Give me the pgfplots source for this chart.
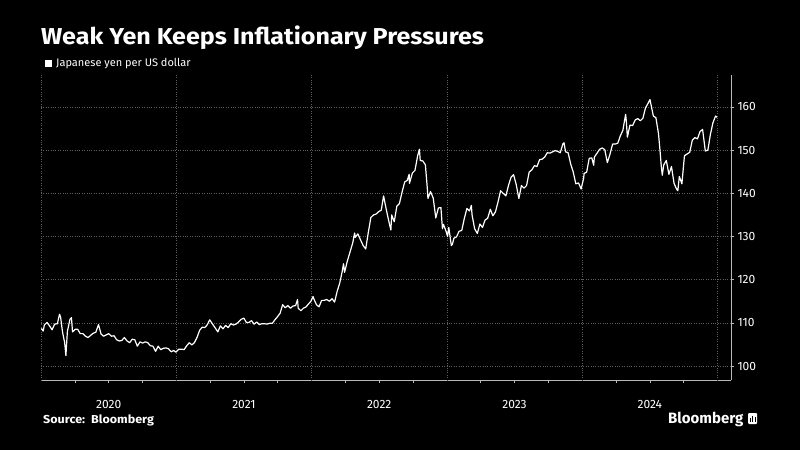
\documentclass[border=0pt]{standalone}
\usepackage{pgfplots}
\pgfplotsset{compat=1.18}
\usepackage{fontspec}
\setmainfont{Fira Sans}
\newfontfamily\widefont{Fira Sans}[FakeStretch=1.09]
\definecolor{gridc}{RGB}{95,95,95}
\definecolor{axc}{RGB}{185,185,185}
\begin{document}
\begin{tikzpicture}[x=1pt,y=1pt]
\fill[black] (0,0) rectangle (800,450);
\node[anchor=base west, text=white, inner sep=0, font=\widefont\fontsize{23}{23}\selectfont\bfseries] at (41,405) {Weak Yen Keeps Inflationary Pressures};
\fill[white] (45,383) rectangle (52,390);
\node[anchor=base west, text=white, inner sep=0, font=\fontsize{11}{11}\selectfont] at (56,383) {Japanese yen per US dollar};
\begin{axis}[
 at={(41pt,70pt)}, anchor=south west,
 scale only axis, width=690pt, height=305pt,
 xmin=2020, xmax=2025.1, ymin=96.76, ymax=167.4,
 axis x line*=bottom, axis y line*=right,
 axis line style={axc, line width=0.8pt},
 tick align=outside,
 ytick={100,110,120,130,140,150,160},
 ytick pos=right,
 xtick={2020.5,2021.5,2022.5,2023.5,2024.5},
 xticklabels={2020,2021,2022,2023,2024},
 major tick length=3pt,
 minor tick length=3pt,
 minor xtick={2020.25,2020.5,2020.75,2021.25,2021.5,2021.75,2022.25,2022.5,2022.75,2023.25,2023.5,2023.75,2024.25,2024.5,2024.75},
 x tick style={draw=none},
 minor x tick style={draw=axc, line width=0.6pt},
 y tick style={axc, line width=0.6pt},
 extra x ticks={2020,2021,2022,2023,2024,2025},
 extra x tick labels={},
 extra x tick style={grid=major, major tick length=30pt, tick style={draw=axc, line width=0.6pt}},
 ymajorgrids,
 major grid style={gridc, dotted, line width=0.6pt},
 /pgf/number format/assume math mode=true,
 ticklabel style={text=white, font=\fontsize{12}{12}\selectfont},
 xticklabel style={yshift=-14pt},
 clip=false,
]
\addplot[white, line width=1.2pt, line join=round] coordinates {
(2020.003,108.7)(2020.016,108.1)(2020.025,109.5)(2020.044,110.1)(2020.063,109.3)(2020.082,108.4)
(2020.101,109.7)(2020.121,109.8)(2020.137,112.0)(2020.145,111.3)(2020.159,107.9)(2020.175,105.4)
(2020.184,102.4)(2020.195,108.0)(2020.214,110.8)(2020.225,111.2)(2020.233,107.9)(2020.252,108.5)
(2020.271,108.5)(2020.290,107.5)(2020.310,107.5)(2020.329,106.9)(2020.348,106.6)(2020.367,107.1)
(2020.386,107.6)(2020.405,107.8)(2020.425,109.6)(2020.444,107.4)(2020.463,106.9)(2020.482,107.2)
(2020.500,107.5)(2020.521,106.9)(2020.540,107.0)(2020.559,106.1)(2020.578,105.8)(2020.597,105.9)
(2020.616,106.6)(2020.636,105.8)(2020.655,105.4)(2020.674,106.2)(2020.693,106.1)(2020.712,104.6)
(2020.732,105.6)(2020.751,105.3)(2020.770,105.6)(2020.789,105.4)(2020.808,104.7)(2020.827,104.6)
(2020.847,103.4)(2020.866,104.6)(2020.885,103.8)(2020.904,104.1)(2020.923,104.2)(2020.942,104.0)
(2020.962,103.3)(2020.981,103.6)(2020.997,103.2)
(2021.019,103.9)(2021.038,103.9)(2021.058,103.8)(2021.077,104.7)(2021.096,105.4)(2021.115,104.9)
(2021.134,105.4)(2021.153,106.6)(2021.173,108.3)(2021.192,109.0)(2021.211,108.9)(2021.230,109.6)
(2021.247,110.7)(2021.268,109.7)(2021.288,108.8)(2021.307,107.9)(2021.326,109.3)(2021.345,108.6)
(2021.364,109.4)(2021.384,108.9)(2021.403,109.8)(2021.422,109.5)(2021.441,109.7)(2021.460,110.2)
(2021.479,110.8)(2021.499,111.1)(2021.518,110.1)(2021.537,110.1)(2021.556,110.5)(2021.575,109.7)
(2021.595,110.2)(2021.614,109.6)(2021.633,109.8)(2021.652,109.8)(2021.671,109.7)(2021.690,109.9)
(2021.710,109.9)(2021.729,110.7)(2021.745,111.3)(2021.767,112.2)(2021.786,114.2)(2021.805,113.5)
(2021.825,114.0)(2021.844,113.4)(2021.863,113.9)(2021.882,114.0)(2021.896,115.4)(2021.901,113.4)
(2021.921,112.8)(2021.940,113.4)(2021.959,113.7)(2021.978,114.4)(2021.997,115.1)
(2022.011,116.1)(2022.016,115.6)(2022.036,114.2)(2022.055,113.7)(2022.074,115.2)(2022.093,115.2)
(2022.112,115.4)(2022.132,115.0)(2022.151,115.6)(2022.170,114.8)(2022.189,117.3)(2022.208,119.2)
(2022.227,122.0)(2022.236,123.7)(2022.244,121.7)(2022.264,124.3)(2022.284,126.4)(2022.304,128.5)
(2022.318,130.8)(2022.323,129.8)(2022.342,130.6)(2022.362,129.2)(2022.381,127.9)(2022.400,127.1)
(2022.419,130.9)(2022.438,134.4)(2022.458,135.0)(2022.477,135.2)(2022.493,135.7)(2022.515,136.1)
(2022.532,139.4)(2022.553,136.1)(2022.573,133.2)(2022.586,131.5)(2022.592,135.0)(2022.611,133.4)
(2022.630,137.0)(2022.649,137.6)(2022.668,140.2)(2022.688,142.6)(2022.707,143.0)(2022.721,144.4)
(2022.723,142.3)(2022.745,144.7)(2022.764,145.3)(2022.784,148.7)(2022.797,150.2)(2022.803,147.6)
(2022.822,147.5)(2022.841,146.6)(2022.856,140.9)(2022.860,138.8)(2022.879,140.4)(2022.899,138.9)
(2022.918,134.3)(2022.937,136.6)(2022.956,136.7)(2022.967,131.8)(2022.975,132.8)(2022.995,131.1)
(2023.005,130.0)(2023.014,132.1)(2023.033,127.9)(2023.041,128.2)(2023.052,129.6)(2023.071,129.9)
(2023.090,131.2)(2023.110,131.4)(2023.129,134.2)(2023.148,136.5)(2023.167,135.9)(2023.181,137.2)
(2023.186,135.0)(2023.205,131.8)(2023.225,130.7)(2023.244,132.9)(2023.263,132.1)(2023.282,133.8)
(2023.301,134.2)(2023.321,136.3)(2023.340,134.8)(2023.359,135.7)(2023.378,138.0)(2023.397,140.6)
(2023.416,140.0)(2023.436,139.4)(2023.455,141.8)(2023.474,143.7)(2023.493,144.3)(2023.512,142.1)
(2023.532,138.8)(2023.551,141.8)(2023.570,141.2)(2023.589,141.8)(2023.608,144.9)(2023.627,145.4)
(2023.647,146.4)(2023.666,146.2)(2023.685,147.8)(2023.704,147.9)(2023.723,148.4)(2023.742,149.4)
(2023.762,149.3)(2023.781,149.6)(2023.800,149.9)(2023.819,149.7)(2023.838,149.4)(2023.858,151.5)
(2023.866,151.7)(2023.877,149.6)(2023.896,149.4)(2023.915,146.8)(2023.934,144.9)(2023.953,142.2)
(2023.973,142.4)(2023.992,141.0)
(2024.011,143.5)(2024.014,144.6)(2024.033,144.9)(2024.052,148.1)(2024.071,148.2)(2024.085,146.5)
(2024.090,148.4)(2024.110,149.3)(2024.129,150.2)(2024.148,150.5)(2024.167,150.1)(2024.186,147.1)
(2024.205,149.0)(2024.225,151.4)(2024.244,151.4)(2024.263,151.6)(2024.282,153.3)(2024.301,154.6)
(2024.321,158.3)(2024.326,156.8)(2024.334,153.0)(2024.353,155.8)(2024.373,155.7)(2024.392,157.0)
(2024.411,157.3)(2024.430,156.8)(2024.449,157.4)(2024.468,159.8)(2024.488,160.9)(2024.501,161.7)
(2024.507,160.8)(2024.526,157.9)(2024.545,157.5)(2024.564,153.8)(2024.575,150.0)(2024.584,146.5)
(2024.592,144.2)(2024.603,146.6)(2024.622,147.6)(2024.641,144.4)(2024.660,146.2)(2024.679,142.3)
(2024.699,140.9)(2024.707,140.6)(2024.718,143.9)(2024.737,142.2)(2024.756,148.7)(2024.775,149.1)
(2024.795,149.5)(2024.814,152.3)(2024.833,152.9)(2024.852,152.6)(2024.871,154.3)(2024.890,154.8)
(2024.910,149.8)(2024.929,150.0)(2024.948,153.7)(2024.967,156.4)(2024.986,157.9)(2024.997,157.6)
};
\end{axis}
\node[anchor=west, text=white, inner sep=0, font=\widefont\fontsize{11.5}{11.5}\selectfont\bfseries] at (43,30) {Source:\ \ Bloomberg};
\node[anchor=west, text=white, inner sep=0, font=\fontsize{15}{15}\selectfont\bfseries] at (668,31) {Bloomberg};
\fill[white, rounded corners=1pt] (748,26) rectangle (757,37);
\fill[black] (750,28.5) rectangle (751,32);
\fill[black] (752.3,28.5) rectangle (753.3,34);
\fill[black] (754.6,28.5) rectangle (755.6,33);
\end{tikzpicture}
\end{document}
